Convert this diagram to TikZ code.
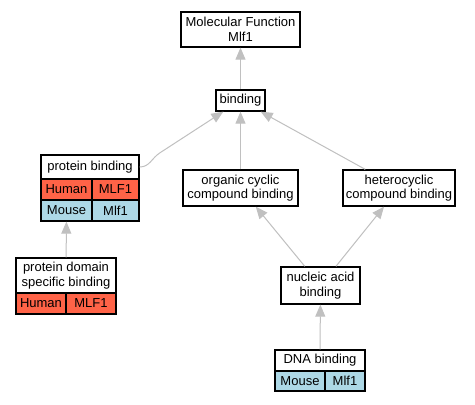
\documentclass[tikz,border=0pt]{standalone}
\usepackage{fontspec}
\setmainfont{Liberation Sans}
\usetikzlibrary{arrows.meta,calc}
\definecolor{human}{HTML}{FF6347}
\definecolor{mouse}{HTML}{ADD8E6}
\definecolor{edgegray}{HTML}{C0C0C0}
\begin{document}
\begin{tikzpicture}[x=1pt,y=-1pt,
  box/.style={draw=black, line width=1.3pt, fill=white, inner sep=0pt, align=center,
    font=\fontsize{13}{14.5}\selectfont},
  hum/.style={box, fill=human},
  mou/.style={box, fill=mouse},
  edge/.style={draw=edgegray, line width=1pt, -{Triangle[length=12pt,width=10pt]}}]
\useasboundingbox (0,0) rectangle (475,405);
\fill[white] (0,0) rectangle (475,405);
% nodes
\node[box, minimum width=119, minimum height=35] (mf) at (240.5,29.5) {Molecular Function\\Mlf1};
\node[box, minimum width=49, minimum height=21] (bind) at (240.5,100.5) {binding};
\node[box, minimum width=98, minimum height=24] (pbt) at (90,167) {protein binding};
\node[hum, minimum width=51, minimum height=21] (pbh1) at (66.5,189.5) {Human};
\node[hum, minimum width=47, minimum height=21] (pbh2) at (115.5,189.5) {MLF1};
\node[mou, minimum width=51, minimum height=21] (pbm1) at (66.5,210.5) {Mouse};
\node[mou, minimum width=47, minimum height=21] (pbm2) at (115.5,210.5) {Mlf1};
\node[box, minimum width=100, minimum height=35] (pdst) at (66,275.5) {protein domain\\specific binding};
\node[hum, minimum width=50, minimum height=21] (pdsh1) at (41,303.5) {Human};
\node[hum, minimum width=50, minimum height=21] (pdsh2) at (91,303.5) {MLF1};
\node[box, minimum width=115, minimum height=36] (org) at (240.5,188) {organic cyclic\\compound binding};
\node[box, minimum width=112, minimum height=36] (het) at (399,188) {heterocyclic\\compound binding};
\node[box, minimum width=79, minimum height=37] (nuc) at (320.5,285.5) {nucleic acid\\binding};
\node[box, minimum width=90, minimum height=21] (dnat) at (320,360.5) {DNA binding};
\node[mou, minimum width=50, minimum height=20] (dnam1) at (300,381) {Mouse};
\node[mou, minimum width=40, minimum height=20] (dnam2) at (345,381) {Mlf1};
% edges
\draw[edge] (bind) -- (mf);
\draw[edge] (org) -- (bind);
\draw[edge] (het) -- (bind);
\draw[edge] (nuc) -- (org);
\draw[edge] (nuc) -- (het);
\draw[edge] (dnat) -- (nuc);
\draw[edge] (pdst) -- (pbm1);
\draw[edge] (pbt.east) .. controls +(10,0) and +(-8,5.2) .. +(20,-14) -- (bind);
\end{tikzpicture}
\end{document}
